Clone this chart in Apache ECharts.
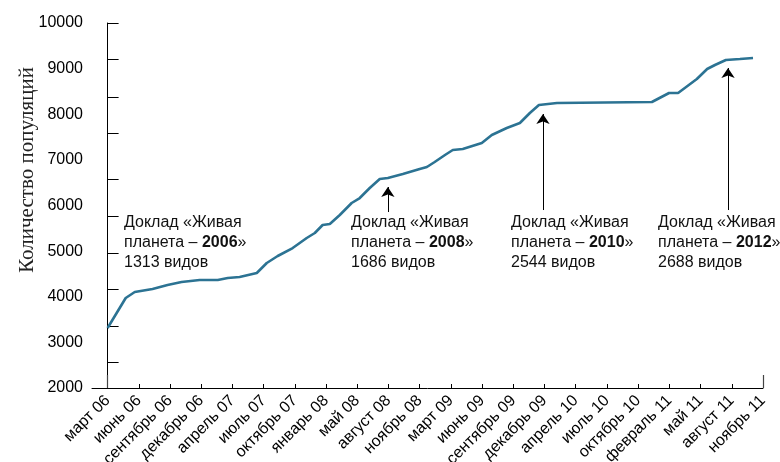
<!DOCTYPE html>
<html><head><meta charset="utf-8">
<script src="https://cdn.jsdelivr.net/npm/echarts@6/dist/echarts.min.js"></script>
<style>html,body{margin:0;padding:0;background:#fff}#c{width:780px;height:462px}</style>
</head><body><div id="c"></div>
<script>
const tickLabels = ['март 06','июнь 06','сентябрь 06','декабрь 06','апрель 07','июль 07','октябрь 07','январь 08','май 08','август 08','ноябрь 08','март 09','июнь 09','сентябрь 09','декабрь 09','апрель 10','июль 10','октябрь 10','февраль 11','май 11','август 11','ноябрь 11'];
const xPos = [0, 0.58, 0.87, 1.44, 1.92, 2.37, 2.95, 3.53, 3.85, 4.23, 4.78, 5.10, 5.45, 5.93, 6.38, 6.64, 6.89, 7.12, 7.44, 7.82, 8.08, 8.40, 8.72, 8.98, 9.46, 10.00, 10.23, 10.48, 10.81, 11.06, 11.38, 11.99, 12.31, 12.79, 13.21, 13.53, 13.82, 14.40, 17.44, 17.99, 18.28, 18.88, 19.21, 19.46, 19.81, 20.26, 20.68];
const values = [3315, 3973, 4104, 4170, 4258, 4323, 4367, 4367, 4411, 4433, 4521, 4740, 4893, 5068, 5288, 5397, 5573, 5595, 5792, 6055, 6164, 6384, 6581, 6603, 6690, 6800, 6844, 6953, 7107, 7216, 7238, 7370, 7545, 7699, 7808, 8027, 8203, 8247, 8268, 8466, 8466, 8773, 8992, 9080, 9189, 9211, 9233];
const yTickMarks = [2000, 2570, 3360, 4170, 4960, 5770, 6580, 7590, 8380, 9210, 10000];
const endTicks = [0, 21];
const reportYears = ['2006', '2008', '2010', '2012'];
const reportSpecies = ['1313 видов', '1686 видов', '2544 видов', '2688 видов'];
const arrowX = [8.98, 13.95, 19.88];
const arrowFrom = [5857, 5901, 5901];
const arrowTo = [6405, 8005, 9014];

const textLeft = [124, 351, 511, 658];
const FONT = '"Liberation Sans", Arial, sans-serif';

const chart = echarts.init(document.getElementById('c'), null, {renderer: 'canvas'});
const lineData = xPos.map((x, i) => [x, values[i]]);
const arrows = arrowX.map((x, i) => [{coord: [x, arrowFrom[i]]}, {coord: [x, arrowTo[i]]}]);

chart.setOption({
  animation: false,
  backgroundColor: '#fff',
  grid: {left: 92, right: 17, top: 23, bottom: 74, containLabel: false, outerBoundsMode: 'none'},
  xAxis: [{
    type: 'value', min: -0.5, max: 21,
    splitLine: {show: false},
    axisLine: {show: true, onZero: false, lineStyle: {color: '#000', width: 1}},
    axisTick: {show: true, inside: true, length: 4, lineStyle: {color: '#000'},
      customValues: tickLabels.map((_, i) => i)},
    axisLabel: {
      customValues: tickLabels.map((_, i) => i),
      formatter: v => tickLabels[Math.round(v)] || '',
      rotate: 45, margin: 10, color: '#000', fontSize: 16, fontFamily: FONT
    }
  }, {
    type: 'value', min: -0.5, max: 21, position: 'bottom', offset: 0,
    splitLine: {show: false},
    axisLine: {show: false, onZero: false},
    axisTick: {show: true, inside: true, length: 13, lineStyle: {color: '#444', width: 1.2}, customValues: endTicks},
    axisLabel: {show: false}
  }],
  yAxis: {
    type: 'value', min: 2000, max: 10000, interval: 1000,
    splitLine: {show: false},
    axisLine: {show: true, lineStyle: {color: '#000', width: 1}},
    axisTick: {show: true, inside: true, length: 11, lineStyle: {color: '#000'}, customValues: yTickMarks},
    axisLabel: {color: '#000', fontSize: 16, fontFamily: FONT, margin: 9, formatter: v => String(v)}
  },
  series: [{
    type: 'line', data: lineData, showSymbol: false, symbol: 'none',
    lineStyle: {color: '#2c7393', width: 2.6},
    markLine: {
      silent: true, symbol: ['none', 'arrow'], symbolSize: 10,
      lineStyle: {color: '#000', width: 1, type: 'solid'},
      itemStyle: {color: '#000'},
      label: {show: false},
      data: arrows
    }
  }],
  graphic: reportYears.map((yr, i) => ({
    type: 'text', left: textLeft[i], top: 213,
    style: {
      text: 'Доклад «Живая\nпланета – {b|' + yr + '}»\n' + reportSpecies[i],
      font: '16px ' + FONT, fill: '#111', lineHeight: 20,
      rich: {b: {fontWeight: 'bold', fontSize: 16, fontFamily: FONT, fill: '#111', lineHeight: 20}}
    }
  })).concat([{
    type: 'text', x: 27, y: 170, rotation: Math.PI / 2,
    style: {
      text: 'Количество популяций', align: 'center', verticalAlign: 'middle',
      font: '21px "Liberation Serif", "Times New Roman", serif', fill: '#222'
    }
  }])
});
</script></body></html>
